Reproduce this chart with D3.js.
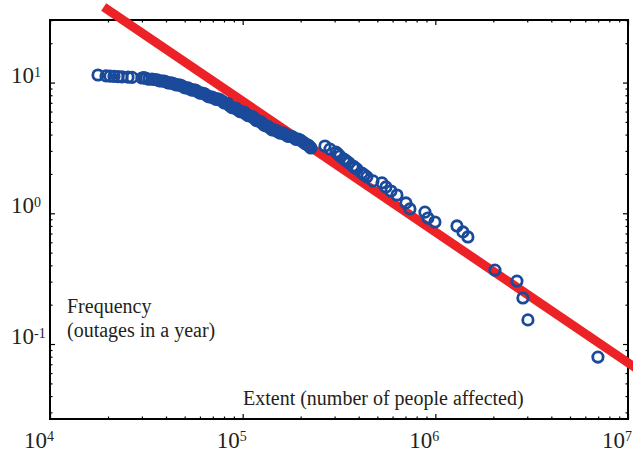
<!DOCTYPE html>
<html>
<head>
<meta charset="utf-8">
<script src="https://cdn.jsdelivr.net/npm/d3@7"></script>
<style>
  body { margin: 0; background: #fff; }
  text { font-family: "Liberation Serif", "Times New Roman", serif; fill: #231f20; }
</style>
</head>
<body>
<svg id="chart" width="633" height="453"></svg>
<script>
// Outage extent (number of people affected) and annual frequency of outages at least that large
const extent = [17750, 19530, 20480, 21480, 22540, 23640, 25400, 26650, 30020, 30700,
  31490, 32600, 33830, 34900, 35930, 37000, 38140, 39100, 40000, 41000,
  41950, 43000, 44010, 45100, 46160, 47300, 48420, 49600, 50800, 52000,
  53280, 54500, 55880, 57200, 58610, 60000, 61490, 63000, 64490, 66000,
  67650, 69300, 70960, 72700, 74430, 76200, 78070, 80000, 81890, 83900,
  85920, 88000, 90130, 92300, 94540, 96800, 99170, 101600, 104000, 106500,
  109100, 111800, 114500, 117300, 120100, 123000, 125900, 129000, 132100, 135300,
  138600, 142000, 145400, 149000, 152500, 156200, 159900, 163800, 167800, 171900,
  176000, 180300, 184600, 189000, 193600, 199500, 205600, 211800, 218300, 222000,
  226200, 267300, 283800, 305000, 312000, 319800, 335600, 345000, 356200, 373600,
  382000, 391900, 416000, 428000, 441600, 474600, 528500, 554100, 588400, 632000,
  703800, 738200, 883200, 915400, 995200, 1295000, 1391000, 1476000, 2039000, 2652000,
  2848000, 3024000, 6981000];
const frequency = [11.43, 11.25, 11.2, 11.15, 11.1, 11.05, 11.0, 10.95, 10.84, 10.9,
  10.75, 10.6, 10.65, 10.55, 10.47, 10.3, 10.28, 10.25, 10.11, 9.95,
  9.93, 9.9, 9.76, 9.6, 9.59, 9.55, 9.42, 9.2, 9.09, 9.1,
  8.93, 8.75, 8.78, 8.7, 8.48, 8.3, 8.32, 8.25, 8.04, 7.85,
  7.76, 7.75, 7.62, 7.45, 7.49, 7.4, 7.23, 7.0, 6.98, 6.9,
  6.62, 6.45, 6.39, 6.35, 6.17, 6.0, 5.96, 5.95, 5.75, 5.6,
  5.55, 5.5, 5.36, 5.15, 5.08, 5.05, 4.91, 4.72, 4.66, 4.62,
  4.49, 4.35, 4.34, 4.3, 4.19, 4.1, 4.12, 4.08, 3.97, 3.88,
  3.90, 3.86, 3.77, 3.68, 3.70, 3.63, 3.51, 3.40, 3.33, 3.25,
  3.16, 3.27, 3.10, 2.94, 2.85, 2.74, 2.60, 2.52, 2.43, 2.30,
  2.24, 2.18, 2.03, 1.97, 1.90, 1.77, 1.71, 1.59, 1.48, 1.38,
  1.20, 1.08, 1.02, 0.92, 0.858, 0.80, 0.72, 0.659, 0.368, 0.303,
  0.225, 0.153, 0.0795];

// Power-law fit: frequency = fitCoefficient * extent^(-fitExponent)
const fitExponent = 1.0;
const fitCoefficient = 7.2e5;
const fitRange = [1.9e4, 1.2e7];

// Axis decades
const xTickExponents = [4, 5, 6, 7];
const yTickExponents = [-1, 0, 1];

const svg = d3.select("#chart");
const plot = { left: 50, right: 628, top: 20, bottom: 419 };

const x = d3.scaleLog().domain([1e4, 1e7]).range([plot.left, plot.right]);
const y = d3.scaleLog().domain([0.0267, 30.1]).range([plot.bottom, plot.top]);

function minorTicks(scale) {
  const [a, b] = scale.domain();
  const out = [];
  for (let e = Math.floor(Math.log10(a)); e <= Math.ceil(Math.log10(b)); e++) {
    for (let k = 2; k <= 9; k++) {
      const v = k * Math.pow(10, e);
      if (v > a && v < b) out.push(v);
    }
  }
  return out;
}
const xMajor = xTickExponents.map(e => Math.pow(10, e));
const yMajor = yTickExponents.map(e => Math.pow(10, e));
const xMinor = minorTicks(x);
const yMinor = minorTicks(y);

// Inward ticks on all four sides
function drawAxis(axisFn, scale, values, size, transform) {
  const g = svg.append("g")
    .attr("transform", transform)
    .call(axisFn(scale).tickValues(values).tickSize(-size).tickSizeOuter(0).tickFormat(""));
  g.select(".domain").remove();
  g.selectAll(".tick line").attr("stroke", "#000").attr("stroke-width", 1.2);
}
drawAxis(d3.axisBottom, x, xMinor, 2.5, `translate(0,${plot.bottom})`);
drawAxis(d3.axisBottom, x, xMajor, 5, `translate(0,${plot.bottom})`);
drawAxis(d3.axisTop, x, xMinor, 2.5, `translate(0,${plot.top})`);
drawAxis(d3.axisTop, x, xMajor, 5, `translate(0,${plot.top})`);
drawAxis(d3.axisLeft, y, yMinor, 2.5, `translate(${plot.left},0)`);
drawAxis(d3.axisLeft, y, yMajor, 5, `translate(${plot.left},0)`);
drawAxis(d3.axisRight, y, yMinor, 2.5, `translate(${plot.right},0)`);
drawAxis(d3.axisRight, y, yMajor, 5, `translate(${plot.right},0)`);

// Plot frame
svg.append("rect")
  .attr("x", plot.left).attr("y", plot.top)
  .attr("width", plot.right - plot.left).attr("height", plot.bottom - plot.top)
  .attr("fill", "none").attr("stroke", "#000").attr("stroke-width", 2);

// Decade labels
const xLab = svg.append("g").selectAll("text").data(xTickExponents).join("text")
  .attr("x", e => x(Math.pow(10, e)) - 26)
  .attr("y", 448)
  .attr("font-size", 23);
xLab.append("tspan").text("10");
xLab.append("tspan").attr("font-size", 14).attr("dy", -7).text(e => String(e));

const yLab = svg.append("g").selectAll("text").data(yTickExponents).join("text")
  .attr("x", 11)
  .attr("y", e => y(Math.pow(10, e)))
  .attr("font-size", 23);
yLab.append("tspan").text("10");
yLab.append("tspan").attr("font-size", 14).attr("dy", -6).text(e => String(e));

// Fitted power law
const fitLine = d3.line()
  .x(d => x(d))
  .y(d => y(fitCoefficient * Math.pow(d, -fitExponent)));
svg.append("path")
  .datum(fitRange)
  .attr("d", fitLine)
  .attr("fill", "none")
  .attr("stroke", "#ec2227")
  .attr("stroke-width", 9);

// Observed outages
svg.append("g").selectAll("circle")
  .data(d3.zip(extent, frequency))
  .join("circle")
  .attr("cx", d => x(d[0]))
  .attr("cy", d => y(d[1]))
  .attr("r", 5.2)
  .attr("fill", "none")
  .attr("stroke", "#1b4a9b")
  .attr("stroke-width", 2.8);

// Axis captions
svg.append("text").attr("x", 67).attr("y", 313).attr("font-size", 20).text("Frequency");
svg.append("text").attr("x", 67).attr("y", 337).attr("font-size", 20).text("(outages in a year)");
svg.append("text").attr("x", 243).attr("y", 405).attr("font-size", 20).text("Extent (number of people affected)");
</script>
</body>
</html>
